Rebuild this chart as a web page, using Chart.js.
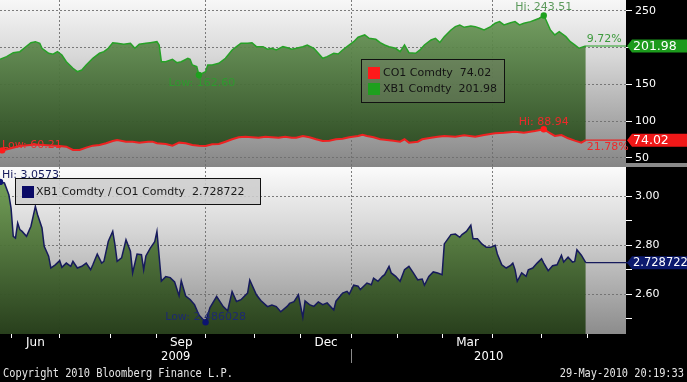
<!DOCTYPE html>
<html><head><meta charset="utf-8">
<script src="https://cdn.jsdelivr.net/npm/chart.js@4.4.1/dist/chart.umd.min.js"></script>
<style>
html,body{margin:0;padding:0;background:#000;width:687px;height:382px;overflow:hidden}
#topc{position:absolute;left:0;top:0;width:687px;height:167px}
#botc{position:absolute;left:0;top:167px;width:687px;height:215px}
</style></head><body>
<canvas id="topc" width="687" height="167"></canvas>
<canvas id="botc" width="687" height="215"></canvas>
<script>
// ---- data (x = trading-day index, 0 = 1-Jun-2009) ----
const xb1Days = [-5,-2,1,4,6,9,11,13,14,17,19,21,23,25,28,30,32,34,37,40,42,44,46,48,51,54,56,58,61,63,66,67,68,70,73,75,77,80,81,82,84,85,88,89,91,94,97,100,102,104,107,109,111,114,116,118,120,123,125,127,129,132,134,137,139,141,143,146,148,150,152,155,157,160,162,165,167,169,171,174,176,178,180,183,185,187,190,192,194,196,199,201,203,205,208,210,212,214,217,219,221,223,226,228,230,232,235,237,239,241,242,244,246,248,251,253,255,257,260];
const xb1Values = [184.0,187.5,192.9,194.3,199.3,206.5,207.9,205.7,198.9,192.1,190.8,194.3,189.8,180.7,171.7,167.1,169.4,176.2,185.3,192.1,194.3,198.9,206.5,205.7,204.3,205.7,198.9,204.3,205.7,206.5,207.9,203.4,180.7,180.7,184.0,179.3,180.7,185.3,184.0,176.2,173.9,162.6,167.1,176.2,176.2,178.5,185.3,196.6,201.1,205.7,205.7,206.5,201.1,201.1,197.6,198.9,196.6,201.1,199.7,197.6,198.9,201.1,203.4,198.9,192.1,185.3,187.5,192.1,191.2,196.6,201.1,207.9,213.9,217.0,212.5,211.1,206.5,203.4,201.1,198.9,194.3,203.4,192.9,192.1,196.6,203.4,210.2,212.5,206.8,214.7,223.8,228.3,230.6,227.4,229.2,228.3,226.1,223.8,228.3,232.9,235.1,230.6,233.7,235.1,230.6,232.9,235.1,237.4,239.7,243.51,237.4,223.8,217.0,221.5,214.7,207.9,203.4,198.9,201.98];

const co1Days = [-5,-4,0,4,11,18,22,25,28,31,34,37,40,43,46,48,52,55,58,62,64,66,70,73,76,79,82,85,88,91,94,97,100,103,106,109,112,115,118,121,124,127,129,132,135,138,141,144,147,150,153,157,159,161,164,167,170,173,176,178,180,184,186,190,193,196,201,205,210,214,219,223,228,232,237,241,244,246,249,252,255,258,260];
const co1Values = [60.8,60.21,63.0,66.2,68.2,66.8,66.2,65.2,60.7,60.7,63.9,66.6,67.5,69.8,73.0,74.3,72.0,72.0,70.7,72.0,72.0,69.8,68.9,66.6,70.7,69.8,67.5,66.6,66.2,68.5,68.9,72.0,75.3,78.0,78.8,78.0,77.4,78.8,78.0,77.4,78.8,77.4,77.4,79.8,78.0,75.3,73.0,73.4,75.3,76.1,78.0,79.8,81.5,79.8,78.0,75.3,74.3,73.4,72.0,75.3,70.7,72.0,75.3,77.4,78.8,79.8,78.8,80.7,78.8,81.1,83.4,84.2,85.6,84.2,86.6,88.94,83.4,79.8,81.1,76.6,73.4,70.7,74.02];

const ratioDays = [-5,-3,-1,0,1,2,3,4,5,7,9,11,12,14,15,17,18,20,22,23,25,27,28,30,32,34,36,37,39,41,42,44,46,47,48,50,52,54,55,57,59,60,61,63,65,66,68,70,72,74,76,77,79,81,83,85,88,90,93,96,98,100,102,104,107,108,111,113,116,118,120,122,125,126,128,130,132,133,135,137,139,141,143,146,147,150,152,153,155,157,158,161,163,164,166,168,169,171,172,174,176,178,180,182,184,186,187,189,191,193,195,196,199,201,203,204,206,208,209,211,213,215,217,219,220,222,224,226,227,228,229,231,233,234,236,238,240,241,243,245,247,249,250,252,254,255,256,258,260];
const ratioValues = [3.0573,3.053,3.005,2.951,2.836,2.829,2.890,2.863,2.856,2.836,2.877,2.958,2.924,2.870,2.795,2.755,2.707,2.720,2.737,2.710,2.727,2.714,2.734,2.707,2.714,2.727,2.700,2.720,2.764,2.727,2.734,2.816,2.856,2.802,2.734,2.748,2.822,2.775,2.687,2.764,2.761,2.700,2.756,2.788,2.814,2.856,2.654,2.672,2.668,2.650,2.594,2.655,2.593,2.579,2.558,2.516,2.486028,2.546,2.591,2.550,2.533,2.611,2.571,2.578,2.605,2.658,2.598,2.575,2.550,2.556,2.550,2.529,2.552,2.563,2.570,2.598,2.506,2.573,2.558,2.551,2.569,2.558,2.565,2.536,2.572,2.605,2.612,2.601,2.637,2.633,2.619,2.646,2.639,2.666,2.653,2.673,2.680,2.714,2.687,2.673,2.653,2.700,2.714,2.687,2.659,2.662,2.637,2.673,2.691,2.687,2.680,2.805,2.843,2.845,2.832,2.843,2.856,2.881,2.826,2.826,2.805,2.791,2.791,2.799,2.764,2.720,2.707,2.718,2.727,2.700,2.653,2.687,2.673,2.700,2.707,2.727,2.745,2.727,2.696,2.716,2.720,2.759,2.731,2.751,2.731,2.734,2.781,2.759,2.728722];

const monthStartDays = [0,22,45,66,88,110,131,154,175,195,218,240,261];
const monthNames = ['Jun','Jul','Aug','Sep','Oct','Nov','Dec','Jan','Feb','Mar','Apr','May','Jun'];
const labeledMonths = ['Jun','Sep','Dec','Mar'];
const gridMonths = ['Jul','Oct','Jan','Apr'];
const yearLabels = ['2009','2010'];
const topTicks = [50,100,150,200,250];
const ratioTicks = [2.5,2.6,2.7,2.8,2.9,3.0];
const ratioTickLabels = ['','2.60','','2.80','','3.00'];
const seriesNames = ['CO1 Comdty','XB1 Comdty','XB1 Comdty / CO1 Comdty'];
const lastLabels = ['74.02','201.98','2.728722'];
const pctLabels = ['21.78%','9.72%'];

// ---- helpers ----
const X_MIN = -5, X_MAX = 278.2;
const FONT = '"DejaVu Sans", Verdana, sans-serif';
const gridDays = monthStartDays.filter((d,i)=>gridMonths.includes(monthNames[i]) && i>0);
const pts = (ds, vs) => ds.map((d,i)=>({x:d, y:vs[i]}));
const idxMax = a => a.indexOf(Math.max(...a));
const idxMin = a => a.indexOf(Math.min(...a));
function noPad(a){ a.paddingTop = 0; a.paddingBottom = 0; a.paddingLeft = 0; a.paddingRight = 0; }

function xAxis(bottom){
  return {
    type:'linear', min:X_MIN, max:X_MAX, position:'bottom',
    afterBuildTicks: a => { a.ticks = monthStartDays.map(v=>({value:v})); },
    afterFit: a => { a.height = bottom ? 48 : 0; noPad(a); },
    ticks:{display:bottom, callback:()=>'', font:{size:1}, padding:0, maxRotation:0, autoSkip:false},
    grid:{
      color: c => (c.tick && gridDays.includes(c.tick.value)) ? 'rgba(110,110,110,0.9)' : 'rgba(0,0,0,0)',
      lineWidth:1, drawTicks:bottom, tickLength:4, tickColor:'#ffffff', tickWidth:1, tickBorderDash:[]
    },
    border:{display:false, dash:[2,2]}
  };
}
function vGrad(chart, stops){
  const a = chart.chartArea;
  if(!a) return 'rgba(0,0,0,0)';
  const g = chart.ctx.createLinearGradient(0, a.top, 0, a.bottom);
  stops.forEach(s=>g.addColorStop(s[0], s[1]));
  return g;
}
function bgPlugin(stops){
  return {
    id:'bg'+Math.floor(Math.random()*1e6),
    beforeDraw(chart){
      const {ctx, chartArea:a, width, height} = chart;
      ctx.save();
      ctx.fillStyle = '#000'; ctx.fillRect(0,0,width,height);
      ctx.fillStyle = vGrad(chart, stops);
      ctx.fillRect(a.left, a.top, a.right-a.left, a.bottom-a.top);
      ctx.restore();
    }
  };
}
function text(ctx, s, x, y, color, size, align){
  ctx.save();
  ctx.font = size + 'px ' + FONT;
  ctx.fillStyle = color; ctx.textAlign = align || 'left'; ctx.textBaseline = 'middle';
  ctx.fillText(s, x, y);
  ctx.restore();
}
function monoText(ctx, s, x, y, align){
  ctx.save();
  ctx.font = '12px "DejaVu Sans Mono", monospace';
  ctx.translate(x, y); ctx.scale(0.86, 1);
  ctx.textAlign = align; ctx.textBaseline = 'middle'; ctx.fillStyle = '#e6e6e6';
  ctx.fillText(s, 0, 0);
  ctx.restore();
}
function hline(ctx, x1, x2, y, color, w){
  ctx.save(); ctx.strokeStyle = color; ctx.lineWidth = w || 1.2;
  ctx.beginPath(); ctx.moveTo(x1, y); ctx.lineTo(x2, y); ctx.stroke(); ctx.restore();
}
function valueBox(ctx, y, s, bg, size){
  const L = 627, R = 687, h = 13, tip = 5;
  ctx.save();
  ctx.fillStyle = bg;
  ctx.beginPath();
  ctx.moveTo(L, y); ctx.lineTo(L+tip, y-h/2); ctx.lineTo(R, y-h/2); ctx.lineTo(R, y+h/2); ctx.lineTo(L+tip, y+h/2);
  ctx.closePath(); ctx.fill();
  ctx.restore();
  text(ctx, s, L+6, y+0.5, '#ffffff', size);
}

const GREEN = '#27a127', RED = '#ee2222', NAVY = '#161a5c';
const xb1Hi = idxMax(xb1Values), xb1Lo = idxMin(xb1Values);
const co1Hi = idxMax(co1Values), co1Lo = idxMin(co1Values);
const rHi = idxMax(ratioValues), rLo = idxMin(ratioValues);

// ---- top chart ----
const overlayTop = {
  id:'overlayTop',
  afterDatasetsDraw(chart){
    const {ctx, chartArea:a, scales:{x, y}} = chart;
    const xe = x.getPixelForValue(xb1Days[xb1Days.length-1]);
    const yg = y.getPixelForValue(xb1Values[xb1Values.length-1]);
    const yr = y.getPixelForValue(co1Values[co1Values.length-1]);
    hline(ctx, xe, a.right, yg, GREEN, 1.2);
    hline(ctx, xe, a.right, yr, RED, 1.2);
    text(ctx, pctLabels[1], xe+1, yg-7, '#3c9a3c', 11);
    text(ctx, pctLabels[0], xe+1, yr+7, '#ee2a2a', 11);
    let px = x.getPixelForValue(xb1Days[xb1Hi]), py = y.getPixelForValue(xb1Values[xb1Hi]);
    text(ctx, 'Hi: ' + xb1Values[xb1Hi].toFixed(2), px, py-8, '#5c9a5c', 11, 'center');
    px = x.getPixelForValue(xb1Days[xb1Lo]); py = y.getPixelForValue(xb1Values[xb1Lo]);
    text(ctx, 'Low: ' + xb1Values[xb1Lo].toFixed(2), px+3, py+8, '#2e9a2e', 11, 'center');
    px = x.getPixelForValue(co1Days[co1Hi]); py = y.getPixelForValue(co1Values[co1Hi]);
    text(ctx, 'Hi: ' + co1Values[co1Hi].toFixed(2), px, py-7, '#ee2a2a', 11, 'center');
    py = y.getPixelForValue(co1Values[co1Lo]);
    text(ctx, 'Low: ' + co1Values[co1Lo].toFixed(2), 2, py-5, '#ee2a2a', 11, 'left');
    ctx.save();
    ctx.fillStyle = 'rgba(125,128,115,0.35)';
    ctx.fillRect(361.5, 59.5, 143, 43);
    ctx.strokeStyle = '#111'; ctx.lineWidth = 1;
    ctx.strokeRect(361.5, 59.5, 143, 43);
    ctx.fillStyle = '#ff1a1a'; ctx.fillRect(368, 67, 12, 12);
    ctx.fillStyle = '#1ea01e'; ctx.fillRect(368, 83, 12, 12);
    ctx.restore();
    text(ctx, seriesNames[0] + '  ' + lastLabels[0], 383, 73.5, '#141414', 11);
    text(ctx, seriesNames[1] + '  ' + lastLabels[1], 383, 89.5, '#141414', 11);
  },
  afterDraw(chart){
    const {ctx, scales:{y}} = chart;
    ctx.save(); ctx.fillStyle = '#8a8a8a'; ctx.fillRect(626, 163, 61, 4); ctx.restore();
    valueBox(ctx, y.getPixelForValue(xb1Values[xb1Values.length-1]), lastLabels[1], '#1c9a1c', 12.5);
    valueBox(ctx, y.getPixelForValue(co1Values[co1Values.length-1]), lastLabels[0], '#f01818', 12.5);
  }
};

new Chart(document.getElementById('topc'), {
  type:'line',
  data:{datasets:[
    {label:seriesNames[1], data:pts(xb1Days, xb1Values), order:1,
     borderColor:GREEN, borderWidth:1.5, tension:0,
     fill:{target:1},
     backgroundColor: c => vGrad(c.chart, [[0,'rgba(112,160,92,0.92)'],[1,'rgba(34,64,24,0.95)']]),
     pointRadius: c => (c.dataIndex===xb1Hi || c.dataIndex===xb1Lo) ? 3.2 : 0,
     pointBackgroundColor:'#1ea01e', pointBorderWidth:0},
    {label:seriesNames[0], data:pts(co1Days, co1Values), order:0,
     borderColor:RED, borderWidth:2, tension:0, fill:false,
     pointRadius: c => (c.dataIndex===co1Hi || c.dataIndex===co1Lo) ? 3.2 : 0,
     pointBackgroundColor:'#ff1a1a', pointBorderWidth:0}
  ]},
  options:{
    responsive:false, animation:false, devicePixelRatio:1,
    layout:{padding:0, autoPadding:false},
    plugins:{legend:{display:false}, tooltip:{enabled:false}},
    scales:{
      x: xAxis(false),
      y:{type:'linear', position:'right', min:37.6, max:264.5,
         afterBuildTicks: a => { a.ticks = topTicks.map(v=>({value:v})); },
         afterFit: a => { a.width = 61; noPad(a); },
         ticks:{color:'#ffffff', font:{family:FONT, size:11}, padding:3, callback: v => String(v)},
         grid:{color:'rgba(110,110,110,0.9)', lineWidth:1, tickColor:'#ffffff', tickLength:6, tickWidth:1, tickBorderDash:[]},
         border:{display:false, dash:[2,2]}}
    }
  },
  plugins:[bgPlugin([[0,'#f7f7f7'],[0.35,'#d6d6d6'],[1,'#858585']]), overlayTop]
});

// ---- bottom chart ----
const overlayBot = {
  id:'overlayBot',
  afterDatasetsDraw(chart){
    const {ctx, chartArea:a, scales:{x, y}} = chart;
    let px = x.getPixelForValue(ratioDays[rHi]), py = y.getPixelForValue(ratioValues[rHi]);
    text(ctx, 'Hi: ' + ratioValues[rHi].toFixed(4), 2, py-7, NAVY, 11, 'left');
    px = x.getPixelForValue(ratioDays[rLo]); py = y.getPixelForValue(ratioValues[rLo]);
    text(ctx, 'Low: ' + ratioValues[rLo].toFixed(6), px, py-5, '#1e2a70', 11, 'center');
    ctx.save();
    ctx.fillStyle = 'rgba(205,205,205,0.88)';
    ctx.fillRect(15.5, 11.5, 245, 26);
    ctx.strokeStyle = '#111'; ctx.lineWidth = 1;
    ctx.strokeRect(15.5, 11.5, 245, 26);
    ctx.fillStyle = '#0a0a66'; ctx.fillRect(22, 19, 12, 12);
    ctx.restore();
    text(ctx, seriesNames[2] + '  ' + lastLabels[2], 36, 25, '#1a1a1a', 11);
  },
  afterDraw(chart){
    const {ctx, chartArea:a, scales:{x, y}} = chart;
    const xe = x.getPixelForValue(ratioDays[ratioDays.length-1]);
    const yl = y.getPixelForValue(ratioValues[ratioValues.length-1]);
    hline(ctx, xe, 632, yl, NAVY, 1.3);
    valueBox(ctx, yl, lastLabels[2], '#0c1a6e', 11.5);
    monthStartDays.forEach((d,i)=>{
      if(i < monthStartDays.length-1 && labeledMonths.includes(monthNames[i])){
        const c = (x.getPixelForValue(d) + x.getPixelForValue(monthStartDays[i+1]))/2;
        text(ctx, monthNames[i], c, a.bottom+9, '#ffffff', 12, 'center');
      }
    });
    const yb = monthStartDays[monthNames.indexOf('Jan')];
    const c09 = (x.getPixelForValue(X_MIN) + x.getPixelForValue(yb))/2;
    const c10 = (x.getPixelForValue(yb) + x.getPixelForValue(X_MAX))/2;
    text(ctx, yearLabels[0], c09, a.bottom+23, '#ffffff', 11.5, 'center');
    text(ctx, yearLabels[1], c10, a.bottom+23, '#ffffff', 11.5, 'center');
    const sx = Math.round(x.getPixelForValue(yb)) + 0.5;
    ctx.save(); ctx.strokeStyle = '#8a8a8a'; ctx.lineWidth = 1;
    ctx.beginPath(); ctx.moveTo(sx, a.bottom+15); ctx.lineTo(sx, a.bottom+29); ctx.stroke(); ctx.restore();
    monoText(ctx, 'Copyright 2010 Bloomberg Finance L.P.', 3, a.bottom+40, 'left');
    monoText(ctx, '29-May-2010 20:19:33', 684, a.bottom+40, 'right');
  }
};

new Chart(document.getElementById('botc'), {
  type:'line',
  data:{datasets:[
    {label:seriesNames[2], data:pts(ratioDays, ratioValues),
     borderColor:NAVY, borderWidth:1.5, tension:0, fill:'start',
     backgroundColor: c => vGrad(c.chart, [[0,'rgba(112,162,82,0.93)'],[1,'rgba(36,60,24,0.96)']]),
     pointRadius: c => (c.dataIndex===rHi || c.dataIndex===rLo) ? 3.2 : 0,
     pointBackgroundColor:'#0c1470', pointBorderWidth:0}
  ]},
  options:{
    responsive:false, animation:false, devicePixelRatio:1,
    layout:{padding:0, autoPadding:false},
    plugins:{legend:{display:false}, tooltip:{enabled:false}},
    scales:{
      x: xAxis(true),
      y:{type:'linear', position:'right', min:2.4385, max:3.118,
         afterBuildTicks: a => { a.ticks = ratioTicks.map(v=>({value:v})); },
         afterFit: a => { a.width = 61; noPad(a); },
         ticks:{color:'#ffffff', font:{family:FONT, size:11}, padding:3,
                callback: (v,i) => ratioTickLabels[i]},
         grid:{color: c => (c.tick && ratioTickLabels[c.index]) ? 'rgba(110,110,110,0.9)' : 'rgba(0,0,0,0)',
               lineWidth:1, tickColor:'#ffffff', tickLength:6, tickWidth:1, tickBorderDash:[]},
         border:{display:false, dash:[2,2]}}
    }
  },
  plugins:[bgPlugin([[0,'#fbfbfb'],[0.4,'#d4d4d4'],[1,'#8c8c8c']]), overlayBot]
});
</script></body></html>
